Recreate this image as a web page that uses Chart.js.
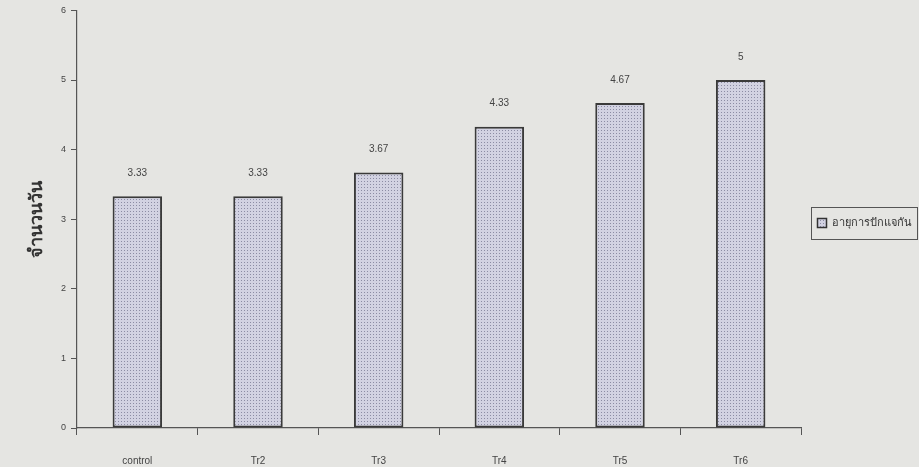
<!DOCTYPE html>
<html>
<head>
<meta charset="utf-8">
<script src="https://cdn.jsdelivr.net/npm/chart.js@4"></script>
<style>
html,body{margin:0;padding:0;background:#e5e5e2;}
#wrap{width:919px;height:467px;position:relative;}
</style>
</head>
<body>
<div id="wrap"><canvas id="c" width="919" height="467"></canvas></div>
<script>
const categories = ["control", "Tr2", "Tr3", "Tr4", "Tr5", "Tr6"];
const vaseLife = [3.33, 3.33, 3.67, 4.33, 4.67, 5];
const valueLabels = ["3.33", "3.33", "3.67", "4.33", "4.67", "5"];
const seriesName = "อายุการปักแจกัน";
const yTitle = "จำนวนวัน";
const yTicks = [0, 1, 2, 3, 4, 5, 6];

function makePattern() {
  const p = document.createElement('canvas');
  p.width = 3; p.height = 3;
  const g = p.getContext('2d');
  g.fillStyle = '#d2d2e2';
  g.fillRect(0, 0, 3, 3);
  g.fillStyle = '#8c8ca4';
  g.fillRect(1, 1, 1, 1);
  return g.createPattern(p, 'repeat');
}
const pattern = makePattern();

const bgPlugin = {
  id: 'bg',
  beforeDraw(chart) {
    const ctx = chart.ctx;
    ctx.save();
    ctx.fillStyle = '#e5e5e2';
    ctx.fillRect(0, 0, chart.width, chart.height);
    ctx.restore();
  }
};

const valuePlugin = {
  id: 'values',
  afterDatasetsDraw(chart) {
    const ctx = chart.ctx;
    const meta = chart.getDatasetMeta(0);
    ctx.save();
    ctx.font = '10px "Liberation Sans", Arial, sans-serif';
    ctx.fillStyle = '#444';
    ctx.textAlign = 'center';
    ctx.textBaseline = 'middle';
    meta.data.forEach((bar, i) => {
      ctx.fillText(valueLabels[i], bar.x, bar.y - 23);
    });
    ctx.restore();
  }
};

const legendPlugin = {
  id: 'boxLegend',
  afterDraw(chart) {
    const ctx = chart.ctx;
    const x = 811, y = 207, w = 106, h = 32;
    ctx.save();
    ctx.strokeStyle = '#555';
    ctx.lineWidth = 1;
    ctx.strokeRect(x + 0.5, y + 0.5, w, h);
    const sx = x + 6, sy = y + 11;
    ctx.fillStyle = pattern;
    ctx.fillRect(sx, sy, 10, 10);
    ctx.strokeStyle = '#333';
    ctx.lineWidth = 1.5;
    ctx.strokeRect(sx + 0.5, sy + 0.5, 9, 9);
    ctx.font = '11px "Noto Sans", "Liberation Sans", sans-serif';
    ctx.fillStyle = '#333';
    ctx.textBaseline = 'middle';
    ctx.fillText(chart.data.datasets[0].label, sx + 15, y + h / 2);
    ctx.restore();
  }
};

new Chart(document.getElementById('c'), {
  type: 'bar',
  data: {
    labels: categories,
    datasets: [{
      label: seriesName,
      data: vaseLife,
      backgroundColor: pattern,
      borderColor: '#3a3a3a',
      borderWidth: 2,
      borderSkipped: false,
      categoryPercentage: 1,
      barPercentage: 0.41
    }]
  },
  options: {
    responsive: false,
    animation: false,
    layout: { padding: { left: 0, right: 118, top: 10, bottom: 0 } },
    plugins: {
      legend: { display: false },
      tooltip: { enabled: false }
    },
    scales: {
      x: {
        offset: true,
        grid: { display: true, drawOnChartArea: false, drawTicks: true, tickLength: 7, color: '#555', offset: true },
        border: { display: true, color: '#555', width: 1.2 },
        ticks: { font: { family: '"Liberation Sans", Arial, sans-serif', size: 10 }, color: '#444', padding: 20 },
        afterFit(scale) { scale.height = 39; }
      },
      y: {
        min: 0, max: 6,
        afterBuildTicks(scale) { scale.ticks = yTicks.map(v => ({ value: v })); },
        grid: { display: true, drawOnChartArea: false, drawTicks: true, tickLength: 6, color: '#555' },
        border: { display: true, color: '#555', width: 1.2 },
        ticks: { font: { family: '"Liberation Sans", Arial, sans-serif', size: 9 }, color: '#444', padding: 5 },
        title: {
          display: true, text: yTitle, color: '#333',
          font: { family: '"Noto Sans", "DejaVu Sans", sans-serif', size: 18, weight: 'bold' },
          padding: { top: 26, bottom: 0 }
        },
        afterFit(scale) { scale.width = 77; }
      }
    }
  },
  plugins: [bgPlugin, valuePlugin, legendPlugin]
});
</script>
</body>
</html>
